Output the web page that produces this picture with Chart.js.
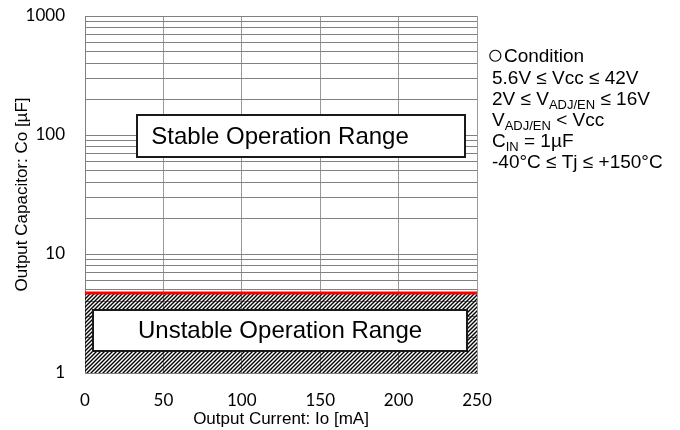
<!DOCTYPE html>
<html><head><meta charset="utf-8">
<script src="https://cdn.jsdelivr.net/npm/chart.js@4.4.0/dist/chart.umd.min.js"></script>
<style>html,body{margin:0;padding:0;background:#fff;}#wrap{width:680px;height:430px;}</style>
</head><body><div id="wrap"><canvas id="c" width="680" height="430"></canvas></div>
<script>
// ---- data ----
const outputCurrent = [0, 250];        // mA
const minCapacitance = [4.7, 4.7];     // µF (stability boundary)
const xTickValues = [0, 50, 100, 150, 200, 250];
const yLabelValues = [1, 10, 100, 1000];
const yGridValues = [1,2,3,4,5,6,7,8,9,10,20,30,40,50,60,70,80,90,100,200,300,400,500,600,700,800,900,1000];
const xTitle = 'Output Current: Io [mA]';
const yTitle = 'Output Capacitor: Co [µF]';
const stableLabel = 'Stable Operation Range';
const unstableLabel = 'Unstable Operation Range';
const conditionLines = [
  [['○','c'],['Condition','n']],
  [['5.6V ≤ Vcc ≤ 42V','n']],
  [['2V ≤ V','n'],['ADJ/EN','s'],[' ≤ 16V','n']],
  [['V','n'],['ADJ/EN','s'],[' < Vcc','n']],
  [['C','n'],['IN','s'],[' = 1µF','n']],
  [['-40°C ≤ Tj ≤ +150°C','n']]
];

// annotation boxes in data units
const boxes = [
  {x0: 33.2, x1: 242.3, y0: 65.3, y1: 147, tx: 124.4, text: stableLabel},
  {x0: 5.1, x1: 243.6, y0: 1.53, y1: 3.38, tx: 124.4, text: unstableLabel}
];

const SANS = '"Liberation Sans", Arial, sans-serif';
const TICKF = 'Lato, "Liberation Sans", sans-serif';

const canvas = document.getElementById('c');
const ctx0 = canvas.getContext('2d');
function makeHatch(){
  const c = document.createElement('canvas'); c.width = 4; c.height = 4;
  const g = c.getContext('2d');
  g.strokeStyle = '#000'; g.lineWidth = 1.4;
  g.beginPath();
  g.moveTo(0,4); g.lineTo(4,0);
  g.moveTo(-1,1); g.lineTo(1,-1);
  g.moveTo(3,5); g.lineTo(5,3);
  g.stroke();
  return ctx0.createPattern(c, 'repeat');
}

const annot = {
  id: 'annot',
  afterDatasetsDraw(chart){
    const {ctx, scales:{x, y}} = chart;
    ctx.save();
    for (const b of boxes){
      const l = Math.round(x.getPixelForValue(b.x0)), r = Math.round(x.getPixelForValue(b.x1));
      const t = Math.round(y.getPixelForValue(b.y1)), bt = Math.round(y.getPixelForValue(b.y0));
      ctx.fillStyle = '#fff'; ctx.fillRect(l, t, r-l, bt-t);
      ctx.strokeStyle = '#1a1a1a'; ctx.lineWidth = 2; ctx.strokeRect(l, t, r-l, bt-t);
      ctx.fillStyle = '#000'; ctx.font = '24px ' + SANS;
      ctx.textAlign = 'center'; ctx.textBaseline = 'middle';
      ctx.fillText(b.text, x.getPixelForValue(b.tx), (t+bt)/2 + 1);
    }
    ctx.restore();
  },
  afterDraw(chart){
    const ctx = chart.ctx;
    ctx.save();
    ctx.fillStyle = '#000'; ctx.textBaseline = 'alphabetic'; ctx.textAlign = 'left';
    const baseY = [62, 84, 105, 126, 147, 168];
    conditionLines.forEach((segs, i) => {
      let xp = i === 0 ? 487 : 492;
      for (const [txt, kind] of segs){
        if (kind === 's'){
          ctx.font = '13px ' + SANS;
          ctx.fillText(txt, xp, baseY[i] + 4);
        } else if (kind === 'c'){
          ctx.font = '28px ' + SANS;
          ctx.fillText(txt, xp, baseY[i] + 2);
        } else {
          ctx.font = '19px ' + SANS;
          ctx.fillText(txt, xp, baseY[i]);
        }
        xp += ctx.measureText(txt).width;
      }
    });
    ctx.restore();
  }
};

new Chart(canvas, {
  type: 'line',
  data: {
    labels: outputCurrent,
    datasets: [{
      data: outputCurrent.map((v, i) => ({x: v, y: minCapacitance[i]})),
      borderColor: '#ff0000', borderWidth: 3, pointRadius: 0,
      fill: 'start', backgroundColor: makeHatch(), tension: 0
    }]
  },
  options: {
    responsive: false, animation: false, devicePixelRatio: 1,
    layout: {padding: {left: 0, top: 16, right: 203, bottom: 0}},
    plugins: {legend: {display: false}, tooltip: {enabled: false}},
    scales: {
      x: {
        type: 'linear', min: 0, max: 250,
        afterBuildTicks: s => { s.ticks = xTickValues.map(v => ({value: v})); },
        afterFit: s => { s.height = 57; s.paddingLeft = 0; s.paddingRight = 0; },
        ticks: {color: '#000', padding: 17, font: {family: TICKF, size: 17}},
        grid: {color: '#999999', drawTicks: false},
        border: {color: '#808080'},
        title: {display: true, text: xTitle, color: '#000', font: {family: SANS, size: 17}, padding: {top: 0, bottom: 0}}
      },
      y: {
        type: 'logarithmic', min: 1, max: 1000,
        afterBuildTicks: s => { s.ticks = yGridValues.map(v => ({value: v})); },
        afterFit: s => { s.width = 85; s.paddingTop = 0; s.paddingBottom = 0; },
        ticks: {autoSkip: false, color: '#000', padding: 20, font: {family: TICKF, size: 17},
          callback: v => yLabelValues.includes(v) ? String(v) : ''},
        grid: {color: '#808080', drawTicks: false},
        border: {color: '#808080'},
        title: {display: true, text: yTitle, color: '#000', font: {family: SANS, size: 17}, padding: {top: 12, bottom: 0}}
      }
    }
  },
  plugins: [annot]
});
</script></body></html>
